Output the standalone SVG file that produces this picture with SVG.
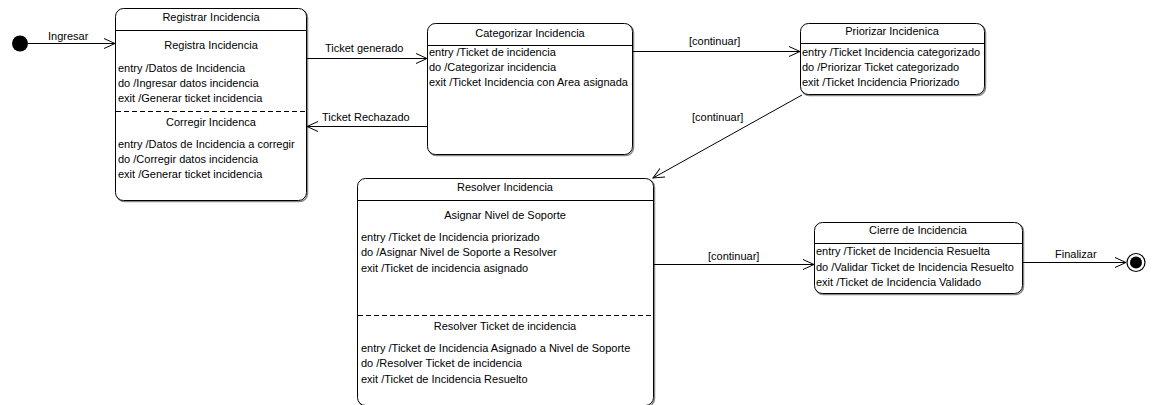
<svg xmlns="http://www.w3.org/2000/svg" width="1155" height="405" viewBox="0 0 1155 405">
  <defs>
    <style>
      text { font-family: "Liberation Sans", Arial, sans-serif; font-size: 11px; fill: #000; }
      .c { text-anchor: middle; }
      .box { fill: #fff; stroke: #000; stroke-width: 1; }
      .shadow { fill: none; stroke: #888; stroke-width: 1.5; }
      .sep { stroke: #000; stroke-width: 1; }
      .dash { stroke: #000; stroke-width: 1; stroke-dasharray: 5 3; }
      .edge { fill: none; stroke: #000; stroke-width: 1; }
    </style>
    <marker id="open" viewBox="0 0 12 12" refX="11" refY="6" markerWidth="12" markerHeight="12" markerUnits="userSpaceOnUse" orient="auto">
      <path d="M0,1 L11,6 L0,11" fill="none" stroke="#000" stroke-width="1"/>
    </marker>
  </defs>

  <!-- initial pseudostate -->
  <g id="initial">
    <circle cx="20" cy="43.5" r="8" fill="#000"/>
  </g>

  <!-- Registrar Incidencia (composite with two regions) -->
  <g id="registrar">
    <rect class="shadow" x="116.5" y="9.5" width="191" height="192" rx="8"/>
    <rect class="box" x="115.5" y="8.5" width="191" height="192" rx="8"/>
    <line class="sep" x1="115.5" y1="30.5" x2="306.5" y2="30.5"/>
    <text class="c" x="211" y="21">Registrar Incidencia</text>
    <text class="c" x="211" y="49">Registra Incidencia</text>
    <text x="118" y="72">entry /Datos de Incidencia</text>
    <text x="118" y="87">do /Ingresar datos incidencia</text>
    <text x="118" y="102">exit /Generar ticket incidencia</text>
    <line class="dash" x1="116" y1="111.5" x2="306" y2="111.5"/>
    <text class="c" x="211" y="126">Corregir Incidenca</text>
    <text x="118" y="148">entry /Datos de Incidencia a corregir</text>
    <text x="118" y="163">do /Corregir datos incidencia</text>
    <text x="118" y="178">exit /Generar ticket incidencia</text>
  </g>

  <!-- Categorizar Incidencia -->
  <g id="categorizar">
    <rect class="shadow" x="428.5" y="24.5" width="205" height="131" rx="8"/>
    <rect class="box" x="427.5" y="23.5" width="205" height="131" rx="8"/>
    <line class="sep" x1="427.5" y1="45.5" x2="632.5" y2="45.5"/>
    <text class="c" x="530" y="37">Categorizar Incidencia</text>
    <text x="429" y="56">entry /Ticket de incidencia</text>
    <text x="429" y="71">do /Categorizar incidencia</text>
    <text x="429" y="86">exit /Ticket Incidencia con Area asignada</text>
  </g>

  <!-- Priorizar Incidenica -->
  <g id="priorizar">
    <rect class="shadow" x="801.5" y="24.5" width="184" height="71" rx="8"/>
    <rect class="box" x="800.5" y="23.5" width="184" height="71" rx="8"/>
    <line class="sep" x1="800.5" y1="43.5" x2="984.5" y2="43.5"/>
    <text class="c" x="892" y="35">Priorizar Incidenica</text>
    <text x="802" y="56">entry /Ticket Incidencia categorizado</text>
    <text x="802" y="71">do /Priorizar Ticket categorizado</text>
    <text x="802" y="86">exit /Ticket Incidencia Priorizado</text>
  </g>

  <!-- Resolver Incidencia (composite with two regions) -->
  <g id="resolver">
    <rect class="shadow" x="358.5" y="179.5" width="296" height="227" rx="8"/>
    <rect class="box" x="357.5" y="178.5" width="296" height="227" rx="8"/>
    <line class="sep" x1="357.5" y1="200.5" x2="653.5" y2="200.5"/>
    <text class="c" x="505" y="191">Resolver Incidencia</text>
    <text class="c" x="505" y="219">Asignar Nivel de Soporte</text>
    <text x="361" y="241">entry /Ticket de Incidencia priorizado</text>
    <text x="361" y="256">do /Asignar Nivel de Soporte a Resolver</text>
    <text x="361" y="272">exit /Ticket de incidencia asignado</text>
    <line class="dash" x1="358" y1="315.5" x2="653" y2="315.5"/>
    <text class="c" x="505" y="330">Resolver Ticket de incidencia</text>
    <text x="361" y="352">entry /Ticket de Incidencia Asignado a Nivel de Soporte</text>
    <text x="361" y="367">do /Resolver Ticket de incidencia</text>
    <text x="361" y="383">exit /Ticket de Incidencia Resuelto</text>
  </g>

  <!-- Cierre de Incidencia -->
  <g id="cierre">
    <rect class="shadow" x="815.5" y="223.5" width="208" height="71" rx="8"/>
    <rect class="box" x="814.5" y="222.5" width="208" height="71" rx="8"/>
    <line class="sep" x1="814.5" y1="243.5" x2="1022.5" y2="243.5"/>
    <text class="c" x="918" y="234">Cierre de Incidencia</text>
    <text x="816" y="255">entry /Ticket de Incidencia Resuelta</text>
    <text x="816" y="271">do /Validar Ticket de Incidencia Resuelto</text>
    <text x="816" y="286">exit /Ticket de Incidencia Validado</text>
  </g>

  <!-- final state -->
  <g id="final">
    <circle cx="1136" cy="262.5" r="9" fill="#fff" stroke="#000" stroke-width="1.2"/>
    <circle cx="1136" cy="262.5" r="6" fill="#000"/>
  </g>

  <!-- transitions -->
  <g id="connectors">
    <line class="edge" x1="27" y1="43.5" x2="115" y2="43.5" marker-end="url(#open)"/>
    <text x="48" y="40">Ingresar</text>

    <line class="edge" x1="307" y1="58.5" x2="427" y2="58.5" marker-end="url(#open)"/>
    <text x="325" y="52">Ticket generado</text>

    <line class="edge" x1="427" y1="126.5" x2="307" y2="126.5" marker-end="url(#open)"/>
    <text x="322" y="121">Ticket Rechazado</text>

    <line class="edge" x1="633" y1="51.5" x2="800" y2="51.5" marker-end="url(#open)"/>
    <text x="689" y="45">[continuar]</text>

    <line class="edge" x1="802" y1="95" x2="653" y2="178" marker-end="url(#open)"/>
    <text x="692" y="121">[continuar]</text>

    <line class="edge" x1="654" y1="264.5" x2="814" y2="264.5" marker-end="url(#open)"/>
    <text x="708" y="260">[continuar]</text>

    <line class="edge" x1="1023" y1="262.5" x2="1126" y2="262.5" marker-end="url(#open)"/>
    <text x="1055" y="258">Finalizar</text>
  </g>
</svg>
